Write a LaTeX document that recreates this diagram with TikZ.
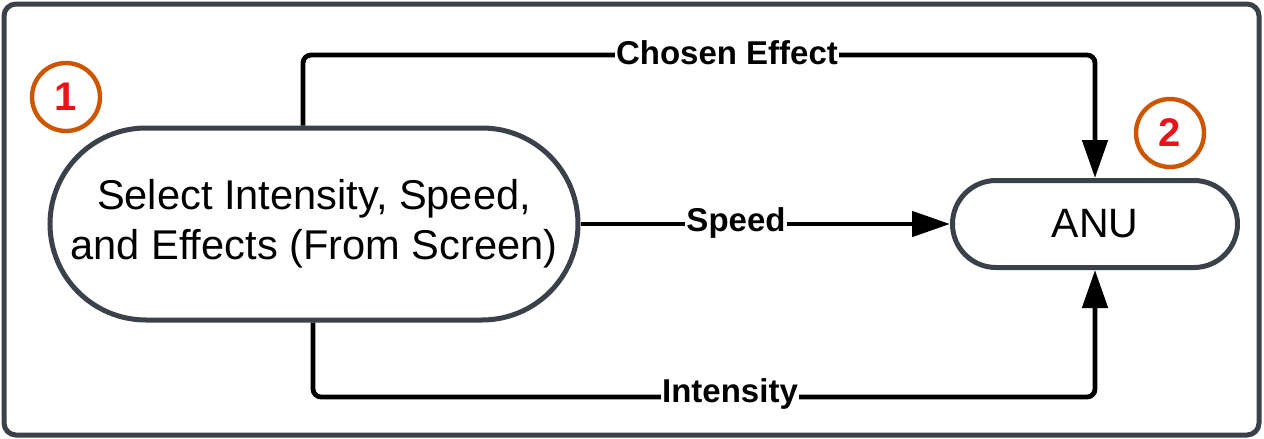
\documentclass[tikz,border=0pt]{standalone}
\usepackage{fontspec}
\setmainfont{Liberation Sans}
\usetikzlibrary{arrows.meta}
\definecolor{frame}{RGB}{59,65,75}
\definecolor{numorange}{RGB}{204,85,0}
\definecolor{numred}{RGB}{232,20,27}
\tikzset{
  stadium/.style={draw=frame, line width=2.5pt, fill=white, align=center, inner sep=0pt},
  edge/.style={draw=black, line width=2.4pt, rounded corners=4pt, -{Triangle[length=19pt,width=12.5pt]}},
  elabel/.style={fill=white, inner sep=0.5pt, font=\fontsize{16.5}{18}\selectfont\bfseries},
  badge/.style={circle, draw=numorange, line width=2.2pt, minimum size=34pt, inner sep=0pt, text=numred, font=\fontsize{20}{22}\selectfont\bfseries}
}
\begin{document}
\begin{tikzpicture}[x=0.5pt,y=-0.5pt]
\useasboundingbox (0,0) rectangle (1264,439);
\draw[frame, line width=2.5pt, rounded corners=6pt] (4,4) rectangle (1259,435);
\node[stadium, minimum width=264pt, minimum height=96pt, rounded corners=48pt,
      font=\fontsize{20.8}{25}\selectfont] (L) at (314,224)
  {Select Intensity, Speed,\\and Effects (From Screen)};
\node[stadium, minimum width=142.5pt, minimum height=43.5pt, rounded corners=21.75pt,
      font=\fontsize{20.5}{24}\selectfont] (A) at (1095,224) {ANU};
\node[badge] (n1) at (66,97) {1};
\node[badge] (n2) at (1170,133) {2};
\coordinate (c1) at (303,55);
\coordinate (c2) at (313,397);
\draw[edge] (L.north -| c1) -- (c1) -- (c1 -| A.north) -- (A.north);
\draw[edge] (L.south -| c2) -- (c2) -- (c2 -| A.south) -- (A.south);
\draw[edge] (L.east) -- (A.west);
\node[elabel] (lc) at (727,53) {Chosen Effect};
\node[elabel] (ls) at (736,223) {Speed};
\node[elabel] (li) at (730,394) {Intensity};
\end{tikzpicture}
\end{document}
